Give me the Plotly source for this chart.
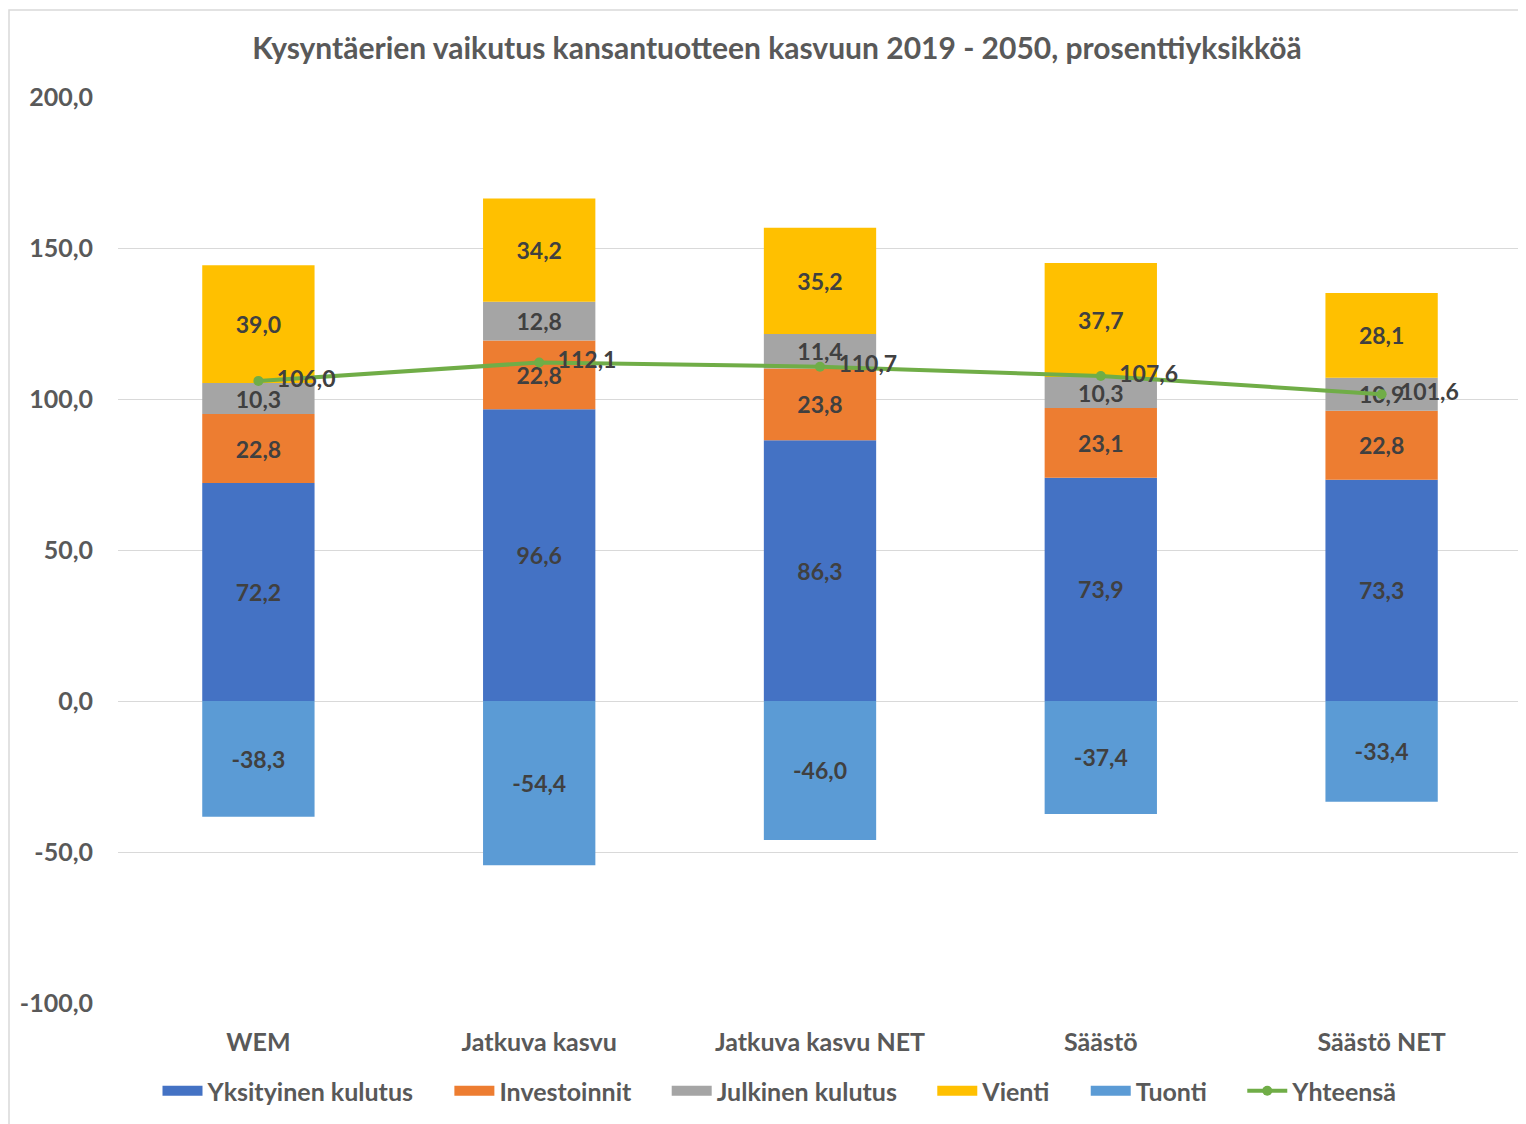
import plotly.graph_objects as go

# data
categories = ["WEM", "Jatkuva kasvu", "Jatkuva kasvu NET", "Säästö", "Säästö NET"]
yksityinen = [72.2, 96.6, 86.3, 73.9, 73.3]
investoinnit = [22.8, 22.8, 23.8, 23.1, 22.8]
julkinen = [10.3, 12.8, 11.4, 10.3, 10.9]
vienti = [39.0, 34.2, 35.2, 37.7, 28.1]
tuonti = [-38.3, -54.4, -46.0, -37.4, -33.4]
yhteensa = [106.0, 112.1, 110.7, 107.6, 101.6]
y_ticks = [-100, -50, 0, 50, 100, 150, 200]

FONT = "Lato"
LABEL = "#404040"
AXIS = "#595959"
PAD = "\u00a0" * 5  # extra room between legend entries

bar_series = [
    ("Yksityinen kulutus", yksityinen, "#4472C4"),
    ("Investoinnit", investoinnit, "#ED7D31"),
    ("Julkinen kulutus", julkinen, "#A5A5A5"),
    ("Vienti", vienti, "#FFC000"),
    ("Tuonti", tuonti, "#5B9BD5"),
]

fig = go.Figure()
for name, vals, color in bar_series:
    fig.add_trace(go.Bar(
        x=categories, y=vals, name=name,
        marker=dict(color=color, line=dict(width=0)),
        text=[f"{v:.1f}".replace(".", ",") for v in vals],
        texttemplate="<b>%{text}</b>",
        textposition="inside",
        insidetextanchor="middle",
        textangle=0,
        constraintext="none",
        textfont=dict(family=FONT, size=23, color=LABEL),
        hoverinfo="skip",
        showlegend=False,
    ))
    # legend entry drawn as a wide block, like the Excel legend
    fig.add_trace(go.Scatter(
        x=[None], y=[None], name=name + PAD, mode="lines",
        line=dict(color=color, width=15),
        hoverinfo="skip",
    ))

fig.add_trace(go.Scatter(
    x=categories, y=yhteensa, name="Yhteensä",
    mode="lines+markers+text",
    line=dict(color="#70AD47", width=4),
    marker=dict(color="#70AD47", size=10),
    texttemplate="<b>\u00a0\u00a0%{y:.1f}</b>",
    textposition="middle right",
    textfont=dict(family=FONT, size=23, color=LABEL),
    cliponaxis=False,
    hoverinfo="skip",
))

fig.update_layout(
    width=1526, height=1124,
    barmode="relative",
    bargap=0.6,
    separators=", ",
    paper_bgcolor="white",
    plot_bgcolor="white",
    font=dict(family=FONT, size=24, color=AXIS),
    margin=dict(l=110, r=12, t=89, b=129),
    title=dict(
        text="<b>Kysyntäerien vaikutus kansantuotteen kasvuun 2019 - 2050, prosenttiyksikköä</b>",
        x=769 / 1526, xanchor="center", xref="container",
        y=1 - 40 / 1124, yanchor="middle", yref="container",
        font=dict(family=FONT, size=30, color=AXIS),
    ),
    xaxis=dict(
        showgrid=False, showline=False, ticks="",
        tickfont=dict(family=FONT, size=25, color=AXIS, weight="bold"),
        ticklabelstandoff=22,
        automargin=False,
    ),
    yaxis=dict(
        range=[-100, 200], tickvals=y_ticks,
        ticktext=[f"{v:.1f}".replace(".", ",") for v in y_ticks],
        showgrid=True, gridcolor="#D9D9D9", gridwidth=1,
        zeroline=True, zerolinecolor="#D9D9D9", zerolinewidth=1,
        showline=False, ticks="",
        tickfont=dict(family=FONT, size=25, color=AXIS, weight="bold"),
        ticklabelstandoff=24,
        automargin=False,
    ),
    legend=dict(
        orientation="h", x=(772 - 110) / 1404, xanchor="center",
        y=(995 - 1083) / 906, yanchor="middle",
        font=dict(family=FONT, size=25, color=AXIS, weight="bold"),
        itemwidth=40,
        traceorder="normal",
    ),
    shapes=[dict(
        type="rect", xref="paper", yref="paper",
        x0=(1 - 110) / 1404, x1=(1530 - 110) / 1404,
        y0=(995 - 1130) / 906, y1=(995 - 2) / 906,
        line=dict(color="#D9D9D9", width=1.5), fillcolor="rgba(0,0,0,0)",
        layer="below",
    )],
)

fig.write_html("out.html")
